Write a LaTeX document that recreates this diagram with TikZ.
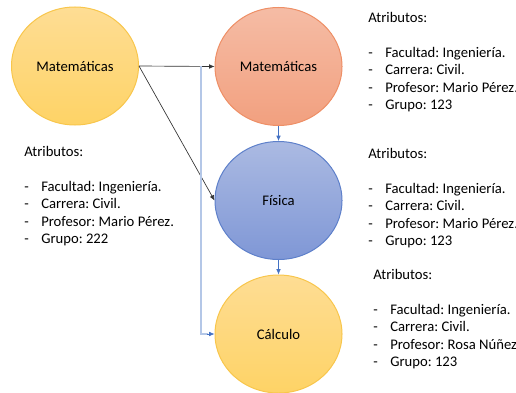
\documentclass[tikz,border=0pt]{standalone}
\usepackage{fontspec}
\setmainfont{Carlito}
\usetikzlibrary{arrows.meta,shapes.geometric}
\frenchspacing

\definecolor{amarilloTop}{HTML}{FEDD94}
\definecolor{amarilloBot}{HTML}{FED366}
\definecolor{amarilloBorde}{HTML}{F8C64C}
\definecolor{salmonTop}{HTML}{F5BCA5}
\definecolor{salmonBot}{HTML}{F2A07F}
\definecolor{salmonBorde}{HTML}{EE8F66}
\definecolor{azulTop}{HTML}{ABBAE2}
\definecolor{azulBot}{HTML}{7F97D6}
\definecolor{azulBorde}{HTML}{5E80CA}
\definecolor{azulLinea}{HTML}{B4C7E7}
\definecolor{azulFlecha}{HTML}{4472C4}

% dash at the start of each list item
\newcommand{\guion}{\makebox[12.75pt][l]{-}}

\begin{document}
\begin{tikzpicture}[x=0.75pt,y=-0.75pt,
  curso/.style={ellipse, draw, line width=0.75pt, minimum width=95.25pt, minimum height=88.5pt, inner sep=0pt, font=\fontsize{11}{13}\selectfont},
  attr/.style={anchor=north west, inner sep=0pt, align=left, font=\fontsize{11}{13.1}\selectfont},
  flecha/.style={-{Latex[length=4pt,width=3.5pt]}, line width=0.5pt}]
\useasboundingbox (0,0) rectangle (516,392);

% Courses
\node[curso, draw=amarilloBorde, top color=amarilloTop, bottom color=amarilloBot] (mat1) at (75,66) {Matemáticas};
\node[curso, draw=salmonBorde, top color=salmonTop, bottom color=salmonBot] (mat2) at (278.5,66.5) {Matemáticas};
\node[curso, draw=azulBorde, top color=azulTop, bottom color=azulBot] (fis) at (278.5,200.5) {Física};
\node[curso, draw=amarilloBorde, top color=amarilloTop, bottom color=amarilloBot] (calc) at (278.5,334) {Cálculo};

% Attributes
\node[attr] (attrMat2) at (368,12) {Atributos:\\[13.1pt]\guion Facultad: Ingeniería.\\\guion Carrera: Civil.\\\guion Profesor: Mario Pérez.\\\guion Grupo: 123};
\node[attr] (attrFis) at (368,148) {Atributos:\\[13.1pt]\guion Facultad: Ingeniería.\\\guion Carrera: Civil.\\\guion Profesor: Mario Pérez.\\\guion Grupo: 123};
\node[attr] (attrCalc) at (373,269) {Atributos:\\[13.1pt]\guion Facultad: Ingeniería.\\\guion Carrera: Civil.\\\guion Profesor: Rosa Núñez\\\guion Grupo: 123};
\node[attr] (attrMat1) at (24,146) {Atributos:\\[13.1pt]\guion Facultad: Ingeniería.\\\guion Carrera: Civil.\\\guion Profesor: Mario Pérez.\\\guion Grupo: 222};

% Connectors
\draw[flecha, black!80] (mat1.east) -- (mat2.west) coordinate[pos=0.82] (split);
\draw[flecha, black!80] (mat1.east) -- (fis.west);
\draw[line width=1.2pt, azulLinea] (split) |- ([xshift=-5pt]calc.west);
\draw[flecha, azulFlecha] ([xshift=-6pt]calc.west) -- (calc.west);
\draw[flecha, azulFlecha] (mat2.south) -- (fis.north);
\draw[flecha, azulFlecha] (fis.south) -- (calc.north);
\end{tikzpicture}
\end{document}
